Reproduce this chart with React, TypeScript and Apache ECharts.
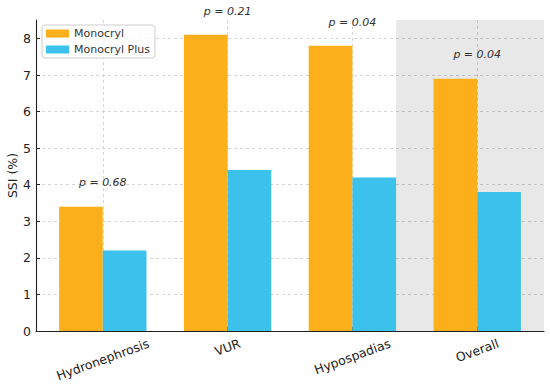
import React, { useEffect, useRef } from 'react';
import * as echarts from 'echarts';

const categories = ['Hydronephrosis', 'VUR', 'Hypospadias', 'Overall'];
const seriesNames = ['Monocryl', 'Monocryl Plus'];
const monocryl = [3.4, 8.1, 7.8, 6.9];
const monocrylPlus = [2.2, 4.4, 4.2, 3.8];
const pValues = ['0.68', '0.21', '0.04', '0.04'];
const yTicks = [0, 1, 2, 3, 4, 5, 6, 7, 8];
const xTicks = [0, 1, 2, 3];
const highlightedCategory = 'Overall';

const W = 550;
const H = 385;
const GRID = { left: 36, right: 6, top: 20, bottom: 54 };
const FONT = 'DejaVu Sans';
const BAR_W = 0.35;
const SPAN = categories.length - 1 + 2 * BAR_W;
const X_MIN = -BAR_W - 0.05 * SPAN;
const X_MAX = categories.length - 1 + BAR_W + 0.05 * SPAN;
const Y_MAX = Math.max(...monocryl, ...monocrylPlus) * 1.05;
const ORANGE = '#FBB01B';
const BLUE = '#3CC1ED';
const TICK_FS = 12.5;
const ROT = 20;

function measure(text: string, size: number, style = '') {
  const ctx = document.createElement('canvas').getContext('2d');
  if (!ctx) return text.length * size * 0.6;
  ctx.font = `${style} ${size}px "${FONT}"`;
  return ctx.measureText(text).width;
}

export default function App() {
  const ref = useRef<HTMLDivElement>(null);
  useEffect(() => {
    if (!ref.current) return;
    const chart = echarts.init(ref.current, undefined, { renderer: 'svg' });
    const plotW = W - GRID.left - GRID.right;
    const plotH = H - GRID.top - GRID.bottom;
    const pxPerX = plotW / (X_MAX - X_MIN);
    const pxPerY = plotH / Y_MAX;
    const barPx = BAR_W * pxPerX;
    const th = (ROT * Math.PI) / 180;
    const lineH = 1.17 * TICK_FS;
    const tickLabelData = categories.map((c, i) => {
      const L = measure(c, TICK_FS);
      const d = 4.9 + (L * Math.sin(th) + lineH * Math.cos(th)) / 2;
      return { value: [i, -d / pxPerY], name: c };
    });
    const hi = categories.indexOf(highlightedCategory);
    const dashed = { color: '#cccccc', width: 0.8, type: [3, 3] as number[] };

    chart.setOption({
      animation: false,
      backgroundColor: '#ffffff',
      textStyle: { fontFamily: FONT },
      grid: {
        left: GRID.left,
        right: GRID.right,
        top: GRID.top,
        bottom: GRID.bottom,
        containLabel: false,
        outerBoundsMode: 'none',
      },
      legend: {
        data: seriesNames,
        orient: 'vertical',
        left: 42,
        top: 25,
        icon: 'rect',
        itemWidth: 23,
        itemHeight: 8,
        itemGap: 5,
        padding: [3, 5, 3, 4],
        backgroundColor: 'rgba(255,255,255,0.8)',
        borderColor: '#cccccc',
        borderWidth: 1,
        borderRadius: 3,
        textStyle: { fontSize: 11, color: '#333', fontFamily: FONT },
      },
      xAxis: {
        type: 'value',
        min: X_MIN,
        max: X_MAX,
        axisLine: { show: true, onZero: false, lineStyle: { color: '#222', width: 1.1 } },
        axisTick: { show: true, inside: true, length: 4, customValues: xTicks, lineStyle: { color: '#222' } },
        axisLabel: { show: false },
        splitLine: { show: true, lineStyle: dashed },
      },
      yAxis: {
        type: 'value',
        min: 0,
        max: Y_MAX,
        interval: 1,
        name: 'SSI (%)',
        nameLocation: 'middle',
        nameGap: 17,
        nameMoveOverlap: false,
        nameTextStyle: { fontSize: TICK_FS, color: '#222', fontFamily: FONT },
        axisLine: { show: true, onZero: false, lineStyle: { color: '#222', width: 1.1 } },
        axisTick: { show: true, inside: true, length: 4, customValues: yTicks, lineStyle: { color: '#222' } },
        axisLabel: { customValues: yTicks, fontSize: TICK_FS, color: '#222', margin: 5, fontFamily: FONT },
        splitLine: { show: true, lineStyle: dashed },
      },
      series: [
        {
          type: 'line',
          name: 'band',
          data: [],
          z: 1,
          silent: true,
          markArea: {
            silent: true,
            itemStyle: { color: 'rgba(0,0,0,0.09)' },
            data: [[{ xAxis: hi - 1 + BAR_W }, { xAxis: X_MAX }]],
          },
        },
        {
          type: 'bar',
          name: seriesNames[0],
          data: monocryl.map((v, i) => [i, v]),
          barWidth: barPx,
          barGap: '0%',
          itemStyle: { color: ORANGE },
          z: 2,
        },
        {
          type: 'bar',
          name: seriesNames[1],
          data: monocrylPlus.map((v, i) => [i, v]),
          barWidth: barPx,
          barGap: '0%',
          itemStyle: { color: BLUE },
          z: 2,
        },
        {
          type: 'scatter',
          name: 'pvals',
          silent: true,
          clip: false,
          symbolSize: 1,
          itemStyle: { color: 'transparent', opacity: 1 },
          data: pValues.map((p, i) => [i, Math.max(monocryl[i], monocrylPlus[i]) + 0.65]),
          label: {
            show: true,
            position: 'inside',
            align: 'center',
            verticalAlign: 'middle',
            fontStyle: 'italic',
            fontSize: 11,
            color: '#333',
            opacity: 1,
            fontFamily: FONT,
            formatter: (p: any) => `p = ${pValues[p.dataIndex]}`,
          },
          z: 5,
        },
        {
          type: 'scatter',
          name: 'ticklabels',
          silent: true,
          clip: false,
          symbolSize: 1,
          itemStyle: { color: 'transparent', opacity: 1 },
          data: tickLabelData,
          label: {
            show: true,
            position: 'inside',
            align: 'center',
            verticalAlign: 'middle',
            rotate: ROT,
            fontSize: TICK_FS,
            color: '#222',
            opacity: 1,
            fontFamily: FONT,
            formatter: (p: any) => categories[p.dataIndex],
          },
          z: 5,
        },
      ],
    });
    return () => chart.dispose();
  }, []);
  return (
    <div
      ref={ref}
      style={{ position: 'fixed', left: 0, top: 0, width: W, height: H }}
    />
  );
}
